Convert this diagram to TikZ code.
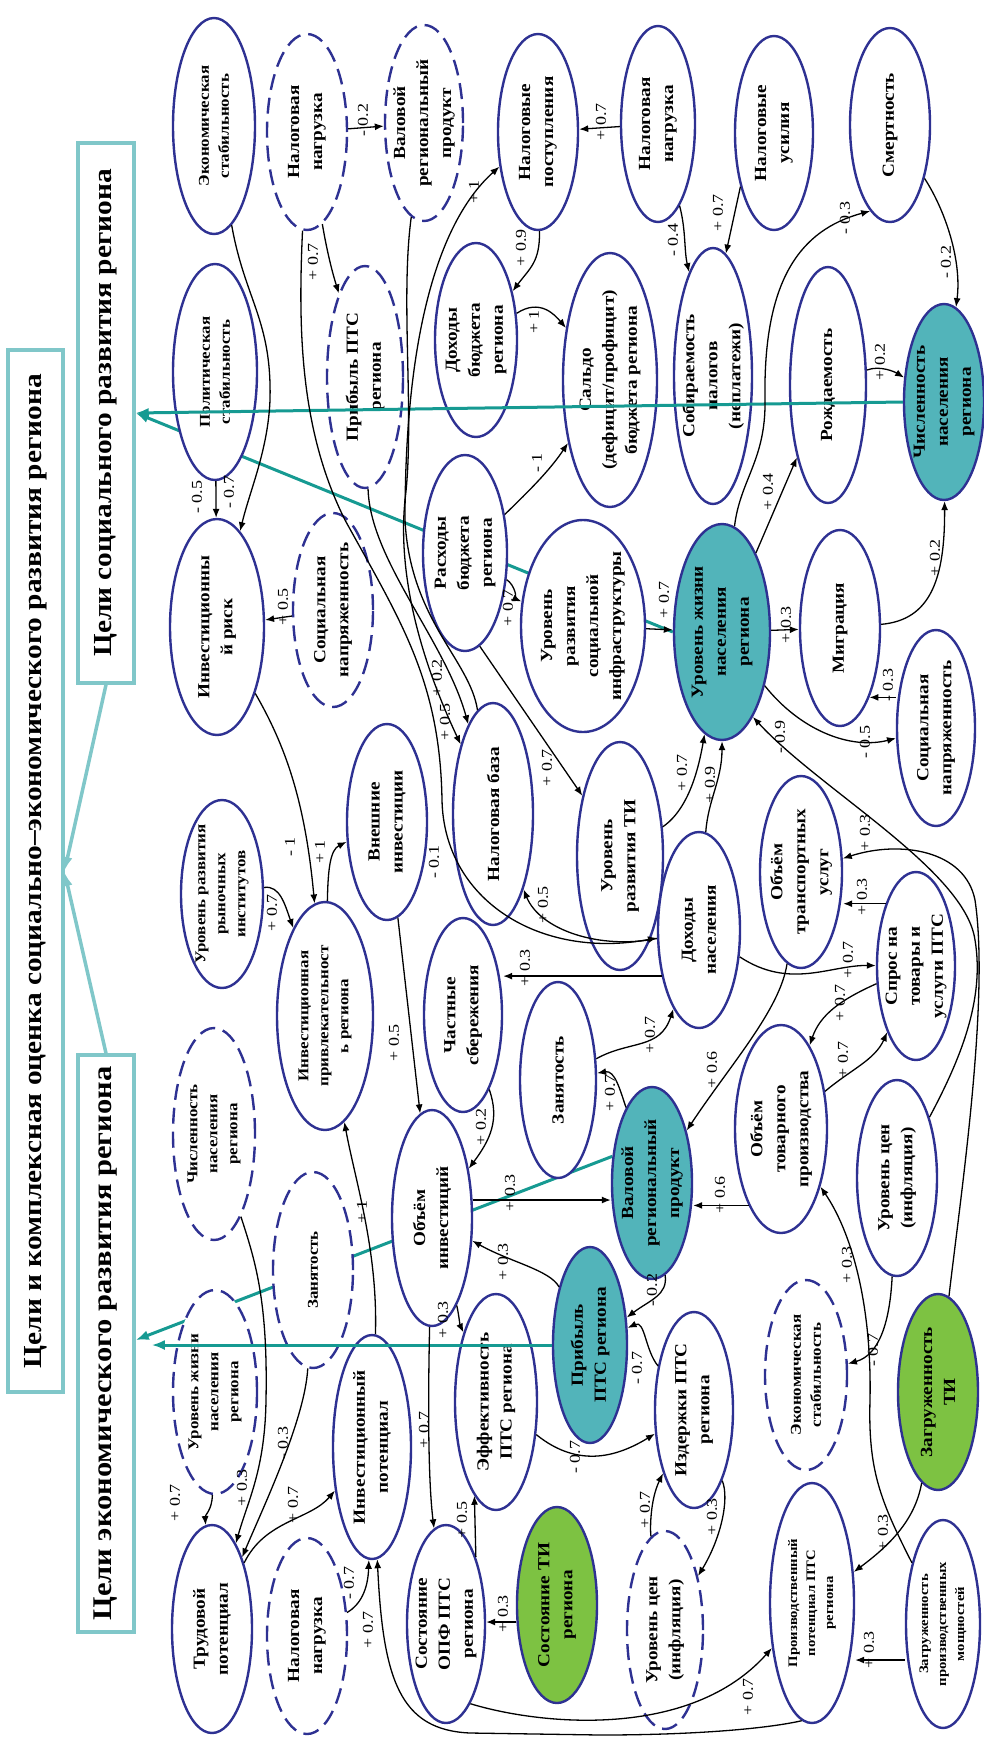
\documentclass[tikz,border=0pt]{standalone}
\usepackage{fontspec}
\setmainfont{Liberation Serif}
\newfontfamily\nodefont[FakeStretch=1.13]{Liberation Serif}
\newfontfamily\labfont[FakeStretch=1.2]{Liberation Serif}
\usetikzlibrary{shapes.geometric,arrows.meta}

\definecolor{nodeblue}{RGB}{46,49,146}
\definecolor{tealfill}{RGB}{82,180,186}
\definecolor{greenfill}{RGB}{125,194,66}
\definecolor{boxteal}{RGB}{128,199,201}
\definecolor{goalteal}{RGB}{22,154,146}

\newcommand\fntL{\nodefont\bfseries\fontsize{17}{23}\selectfont}
\newcommand\fntM{\nodefont\bfseries\fontsize{15}{20}\selectfont}
\newcommand\fntS{\nodefont\bfseries\fontsize{13}{18}\selectfont}
\newcommand\fntLab{\labfont\fontsize{15}{17}\selectfont}
\newcommand\fntTitle{\nodefont\bfseries\fontsize{26}{30}\selectfont}
\newcommand\fntGoal{\nodefont\bfseries\fontsize{27}{31}\selectfont}

\pgfdeclarelayer{bg}
\pgfsetlayers{bg,main}

\tikzset{
  ell/.style={ellipse,draw=nodeblue,line width=2.4pt,fill=white,inner sep=0pt},
  dell/.style={ell,dash pattern=on 16pt off 8pt},
  tell/.style={ell,fill=tealfill},
  gell/.style={ell,fill=greenfill},
  wh/.style 2 args={minimum width=#1pt,minimum height=#2pt},
  tL/.style={rotate=90,align=center,font=\fntL},
  tM/.style={rotate=90,align=center,font=\fntM},
  tS/.style={rotate=90,align=center,font=\fntS},
  tT/.style={rotate=90,align=center,font=\fntTitle},
  tG/.style={rotate=90,align=center,font=\fntGoal},
  lab/.style={rotate=90,font=\fntLab,inner sep=0pt},
  arr/.style={-{Latex[length=9pt,width=7pt]},line width=1.3pt},
  goalbox/.style={rectangle,draw=boxteal,line width=3.5pt,fill=white,inner sep=0pt},
  goal/.style={draw=goalteal,line width=3pt,-{Latex[length=13pt,width=10pt]}},
  sub/.style={draw=boxteal,line width=3.5pt,-{Latex[length=13pt,width=10pt]}}
}

\begin{document}
\begin{tikzpicture}[x=1pt,y=-1pt]
\useasboundingbox (0,0) rectangle (984,1738);

% goal boxes
\node[goalbox,minimum width=55pt,minimum height=1042pt,label={[tT]center:{Цели и комплексная оценка социально–экономического развития региона}}] (general) at (35.5,871) {};
\node[goalbox,minimum width=56pt,minimum height=540pt,label={[tT]center:{Цели социального развития региона}}] (socgoal) at (106,413) {};
\node[goalbox,minimum width=56pt,minimum height=577pt,label={[tG]center:{Цели экономического развития региона}}] (ecogoal) at (106,1343.5) {};
\draw[sub] (socgoal.south) -- (general.east |- 0,870);
\draw[sub] (ecogoal.north) -- (general.east |- 0,873);

% factors
\node[ell,wh={82}{216},label={[tM]center:{Экономическая\\стабильность}}] (ekst) at (214,126) {};
\node[dell,wh={80}{196},label={[tL]center:{Налоговая\\нагрузка}}] (nnA) at (307,132) {};
\node[dell,wh={78}{196},label={[tL]center:{Валовой\\региональный\\продукт}}] (vrpA) at (424,123) {};
\node[ell,wh={80}{196},label={[tL]center:{Налоговые\\поступления}}] (nalpost) at (538,132) {};
\node[ell,wh={74}{196},label={[tL]center:{Налоговая\\нагрузка}}] (nnB) at (658,124) {};
\node[ell,wh={78}{194},label={[tL]center:{Налоговые\\усилия}}] (nalus) at (774,133) {};
\node[ell,wh={80}{194},label={[tL]center:{Смертность}}] (smert) at (890,125) {};
\node[ell,wh={84}{216},label={[tM]center:{Политическая\\стабильность}}] (polst) at (215,372) {};
\node[dell,wh={76}{222},label={[tL]center:{Прибыль ПТС\\региона}}] (prA) at (365,377) {};
\node[ell,wh={82}{194},label={[tL]center:{Доходы\\бюджета\\региона}}] (dohb) at (476,340) {};
\node[ell,wh={94}{254},label={[tL]center:{Сальдо\\(дефицит/профицит)\\бюджета региона}}] (saldo) at (610,380) {};
\node[ell,wh={78}{256},label={[tL]center:{Собираемость\\налогов\\(неплатежи)}}] (sobir) at (713,376) {};
\node[ell,wh={76}{236},label={[tL]center:{Рождаемость}}] (rozhd) at (828,385) {};
\node[tell,wh={80}{196},label={[tL]center:{Численность\\населения\\региона}}] (chisl) at (944,402) {};
\node[ell,wh={94}{216},label={[tL]center:{Инвестиционны\\й риск}}] (invrisk) at (217,627) {};
\node[dell,wh={80}{194},label={[tL]center:{Социальная\\напряженность}}] (socnA) at (333,610) {};
\node[ell,wh={84}{196},label={[tL]center:{Расходы\\бюджета\\региона}}] (rash) at (465,553) {};
\node[ell,wh={124}{212},label={[tL]center:{Уровень\\развития\\социальной\\инфраструктуры}}] (urscinf) at (583,626) {};
\node[tell,wh={96}{216},label={[tL]center:{Уровень жизни\\населения\\региона}}] (urzh) at (722,632) {};
\node[ell,wh={80}{196},label={[tL]center:{Миграция}}] (migr) at (840,628) {};
\node[ell,wh={78}{196},label={[tL]center:{Социальная\\напряженность}}] (socnB) at (936,728) {};
\node[ell,wh={82}{188},label={[tM]center:{Уровень развития\\рыночных\\институтов}}] (urri) at (222,894) {};
\node[ell,wh={80}{196},label={[tL]center:{Внешние\\инвестиции}}] (vneshinv) at (387,822) {};
\node[ell,wh={80}{222},label={[tL]center:{Налоговая база}}] (nalbaza) at (493,814) {};
\node[ell,wh={86}{228},label={[tL]center:{Уровень\\развития ТИ}}] (urti) at (620,856) {};
\node[ell,wh={82}{192},label={[tL]center:{Объём\\транспортных\\услуг}}] (otrans) at (801,872) {};
\node[ell,wh={82}{196},label={[tL]center:{Доходы\\населения}}] (dohnas) at (699,930) {};
\node[ell,wh={78}{188},label={[tL]center:{Спрос на\\товары и\\услуги ПТС}}] (spros) at (916,966) {};
\node[dell,wh={82}{212},label={[tM]center:{Численность\\населения\\региона}}] (chislA) at (214,1134) {};
\node[ell,wh={96}{228},label={[tM]center:{Инвестиционная\\привлекательност\\ь региона}}] (invpriv) at (325,1016) {};
\node[ell,wh={78}{194},label={[tL]center:{Частные\\сбережения}}] (chsber) at (463,1015) {};
\node[ell,wh={76}{196},label={[tL]center:{Занятость}}] (zanB) at (558,1080) {};
\node[ell,wh={92}{208},label={[tL]center:{Объём\\товарного\\производства}}] (otov) at (781,1129) {};
\node[ell,wh={80}{216},label={[tL]center:{Объём\\инвестиций}}] (ovinv) at (432,1218) {};
\node[tell,wh={80}{192},label={[tL]center:{Валовой\\региональный\\продукт}}] (vrpB) at (652,1183) {};
\node[ell,wh={80}{196},label={[tL]center:{Уровень цен\\(инфляция)}}] (urcenB) at (897,1178) {};
\node[dell,wh={80}{196},label={[tM]center:{Занятость}}] (zanA) at (313,1270) {};
\node[dell,wh={84}{204},label={[tM]center:{Уровень жизни\\населения\\региона}}] (urzhA) at (215,1392) {};
\node[ell,wh={78}{224},label={[tL]center:{Инвестиционный\\потенциал}}] (invpot) at (372,1447) {};
\node[ell,wh={82}{216},label={[tL]center:{Эффективность\\ПТС региона}}] (effpts) at (496,1402) {};
\node[tell,wh={74}{196},label={[tL]center:{Прибыль\\ПТС региона}}] (prB) at (590,1345) {};
\node[ell,wh={78}{196},label={[tL]center:{Издержки ПТС\\региона}}] (izd) at (694,1410) {};
\node[dell,wh={82}{190},label={[tM]center:{Экономическая\\стабильность}}] (ekstB) at (806,1375) {};
\node[gell,wh={80}{196},label={[tL]center:{Загруженность\\ТИ}}] (zagti) at (938,1392) {};
\node[ell,wh={80}{208},label={[tL]center:{Трудовой\\потенциал}}] (trud) at (212,1629) {};
\node[dell,wh={80}{196},label={[tL]center:{Налоговая\\нагрузка}}] (nnC) at (307,1636) {};
\node[ell,wh={78}{198},label={[tL]center:{Состояние\\ОПФ ПТС\\региона}}] (opf) at (446,1624) {};
\node[gell,wh={80}{196},label={[tL]center:{Состояние ТИ\\региона}}] (sostti) at (557,1605) {};
\node[dell,wh={76}{198},label={[tL]center:{Уровень цен\\(инфляция)}}] (urcenA) at (665,1630) {};
\node[ell,wh={84}{240},label={[tS]center:{Производственный\\потенциал ПТС\\региона}}] (prpot) at (812,1603) {};
\node[ell,wh={74}{208},label={[tS]center:{Загруженность\\производственных\\мощностей}}] (zagpm) at (943,1624) {};

% links to the goals
\begin{pgfonlayer}{bg}
\draw[goal] (urzh.west) -- (socgoal.east |- 0,413);
\draw[goal] (vrpB.146) -- (ecogoal.east |- 0,1340);
\end{pgfonlayer}
\draw[goal] (chisl.west) -- (socgoal.east |- 0,413);
\draw[goal,shorten >=16pt] (prB.west) -- (ecogoal.east |- 0,1345);

% top part
\draw[arr] (nnA) -- (vrpA) node[lab] (l1) at (363,120) {- 0.2};
\draw[arr] (nnB) -- (nalpost) node[lab] (l2) at (601,122) {+ 0.7};
\draw[arr] (nalpost) .. controls (540,262) and (530,268) .. (dohb) node[lab] (l3) at (521,248) {+ 0.9};
\draw[arr] (dohb) .. controls (540,298) and (555,315) .. (saldo) node[lab] (l4) at (534,322) {+ 1};
\draw[arr] (nalbaza) .. controls (470,660) and (410,620) .. (405,520) .. controls (405,330) and (440,220) .. (nalpost) node[lab] (l5) at (474,192) {+ 1};
\draw[arr] (nnA) .. controls (325,240) and (330,265) .. (prA) node[lab] (l6) at (313,262) {+ 0.7};
\draw[arr] (nnA) .. controls (298,330) and (300,430) .. (345,520) .. controls (400,620) and (440,680) .. (442,800) .. controls (444,900) and (540,960) .. (dohnas) node[lab] (l7) at (434,862) {- 0.1};
\draw[arr] (prA) .. controls (370,560) and (445,640) .. (nalbaza) node[lab] (l67) at (437,678) {+ 0.2};
\draw[arr] (vrpA) .. controls (400,300) and (415,420) .. (405,500) .. controls (395,600) and (440,700) .. (nalbaza) node[lab] (l68) at (445,722) {+ 0.5};
\draw[arr] (nnB) .. controls (686,230) and (684,250) .. (sobir) node[lab] (l50) at (673,240) {- 0.4};
\draw[arr] (nalus.238) -- (sobir.84) node[lab] (l51) at (718,213) {+ 0.7};
\draw[arr] (smert) .. controls (945,210) and (962,260) .. (chisl) node[lab] (l52) at (946,262) {- 0.2};
\draw[arr] (rozhd) .. controls (880,365) and (895,372) .. (chisl) node[lab] (l53) at (880,362) {+ 0.2};

% investment block
\draw[arr] (polst) -- (invrisk) node[lab] (l8) at (197,497) {- 0.5};
\draw[arr] (ekst) .. controls (245,300) and (272,320) .. (270,400) .. controls (268,450) and (250,490) .. (invrisk) node[lab] (l9) at (229,492) {- 0.7};
\draw[arr] (socnA) -- (invrisk) node[lab] (l10) at (283,607) {+ 0.5};
\draw[arr] (invrisk) .. controls (285,745) and (305,800) .. (invpriv) node[lab] (l11) at (290,847) {- 1};
\draw[arr] (urri) .. controls (280,885) and (285,905) .. (invpriv) node[lab] (l12) at (272,913) {+ 0.7};
\draw[arr] (invpriv) .. controls (328,870) and (330,850) .. (vneshinv) node[lab] (l13) at (320,852) {+ 1};
\draw[arr] (vneshinv) -- (ovinv) node[lab] (l14) at (394,1043) {+ 0.5};
\draw[arr] (dohnas.231) -- (dohnas.231 -| chsber.east) node[lab] (l15) at (525,968) {+ 0.3};
\draw[arr] (chsber) .. controls (500,1120) and (490,1140) .. (ovinv) node[lab] (l16) at (481,1127) {+ 0.2};
\draw[arr] (zanB) .. controls (630,1040) and (660,1050) .. (dohnas) node[lab] (l17) at (650,1035) {+ 0.7};
\draw[arr] (vrpB) .. controls (620,1090) and (615,1070) .. (zanB) node[lab] (l18) at (610,1093) {+ 0.7};
\draw[arr] (ovinv.east |- 0,1200) -- (vrpB.west |- 0,1200) node[lab] (l19) at (510,1193) {+ 0.3};
\draw[arr] (prB) .. controls (550,1270) and (510,1262) .. (ovinv) node[lab] (l20) at (503,1262) {+ 0.3};
\draw[arr] (invpot) .. controls (378,1250) and (355,1180) .. (invpriv) node[lab] (l21) at (362,1212) {+ 1};
\draw[arr] (ovinv) .. controls (428,1400) and (428,1480) .. (opf) node[lab] (l22) at (424,1430) {+ 0.7};
\draw[arr] (ovinv) .. controls (458,1310) and (460,1325) .. (effpts) node[lab] (l23) at (443,1320) {+ 0.3};
\draw[arr] (opf.66) -- (effpts.257) node[lab] (l24) at (462,1520) {+ 0.5};
\draw[arr] (sostti.west |- 0,1622) -- (opf.east |- 0,1622) node[lab] (l25) at (503,1614) {+ 0.3};
\draw[arr] (effpts) .. controls (580,1470) and (620,1455) .. (izd) node[lab] (l26) at (575,1457) {- 0.7};
\draw[arr] (izd) .. controls (645,1350) and (645,1320) .. (prB) node[lab] (l27) at (637,1368) {- 0.7};
\draw[arr] (vrpB) .. controls (668,1295) and (650,1300) .. (prB) node[lab] (l28) at (652,1290) {- 0.2};
\draw[arr] (urcenA) .. controls (650,1530) and (650,1500) .. (izd) node[lab] (l29) at (645,1510) {+ 0.7};
\draw[arr] (izd) .. controls (730,1500) and (720,1540) .. (urcenA) node[lab] (l30) at (712,1517) {+ 0.3};

% labour and potentials
\draw[arr] (urzhA) .. controls (212,1510) and (205,1515) .. (trud) node[lab] (l31) at (175,1503) {+ 0.7};
\draw[arr] (chislA) .. controls (255,1260) and (268,1300) .. (266,1400) .. controls (265,1470) and (248,1500) .. (trud) node[lab] (l32) at (242,1488) {+ 0.3};
\draw[arr] (zanA) .. controls (305,1420) and (262,1510) .. (trud) node[lab] (l33) at (283,1443) {- 0.3};
\draw[arr] (trud) .. controls (265,1520) and (310,1520) .. (invpot) node[lab] (l34) at (293,1505) {+ 0.7};
\draw[arr] (nnC) .. controls (360,1605) and (368,1590) .. (invpot) node[lab] (l35) at (349,1583) {- 0.7};
\draw[arr] (prpot.-95) .. controls (770,1728) and (700,1735) .. (600,1735) -- (470,1733) .. controls (400,1730) and (383,1680) .. (invpot) node[lab] (l36) at (368,1630) {+ 0.7};
\draw[arr] (opf.-73) .. controls (540,1725) and (690,1740) .. (prpot) node[lab] (l37) at (748,1697) {+ 0.7};
\draw[arr] (zagpm.west |- 0,1660) -- (prpot.east |- 0,1660) node[lab] (l38) at (869,1650) {+ 0.3};
\draw[arr] (zagti) .. controls (915,1520) and (890,1545) .. (prpot) node[lab] (l39) at (883,1533) {+ 0.3};
\draw[arr] (urcenB) .. controls (890,1320) and (880,1355) .. (ekstB) node[lab] (l40) at (873,1350) {- 0.7};
\draw[arr] (zagpm) .. controls (880,1500) and (868,1470) .. (870,1400) .. controls (872,1300) and (850,1230) .. (otov) node[lab] (l41) at (847,1265) {+ 0.3};

% market block
\draw[arr] (urcenB) .. controls (960,1060) and (985,1000) .. (975,940) .. controls (965,870) and (820,790) .. (urzh.-70) node[lab] (l42) at (780,737) {- 0.9};
\draw[arr] (zagti) .. controls (960,1200) and (990,1000) .. (975,900) .. controls (965,850) and (900,840) .. (otrans) node[lab] (l43) at (865,833) {+ 0.3};
\draw[arr] (spros.116) -- (spros.116 -| otrans.east) node[lab] (l44) at (862,897) {+ 0.3};
\draw[arr] (dohnas) .. controls (790,990) and (830,965) .. (spros) node[lab] (l45) at (848,960) {+ 0.7};
\draw[arr] (spros) .. controls (840,1000) and (820,1015) .. (otov) node[lab] (l46) at (840,1003) {+ 0.7};
\draw[arr] (otov) .. controls (850,1070) and (875,1060) .. (spros) node[lab] (l47) at (843,1060) {+ 0.7};
\draw[arr] (otrans) .. controls (780,1010) and (730,1065) .. (vrpB) node[lab] (l48) at (712,1070) {+ 0.6};
\draw[arr] (otov.247) -- (otov.247 -| vrpB.east) node[lab] (l49) at (720,1195) {+ 0.6};
\draw[arr] (dohnas) .. controls (600,950) and (540,930) .. (nalbaza) node[lab] (l66) at (543,905) {+ 0.5};

% budget and population
\draw[arr] (urzh) .. controls (740,480) and (766,460) .. (765,400) .. controls (763,280) and (800,230) .. (smert.-103) node[lab] (l54) at (845,218) {- 0.3};
\draw[arr] (urzh) -- (rozhd) node[lab] (l55) at (768,492) {+ 0.4};
\draw[arr] (urzh) -- (migr) node[lab] (l56) at (786,625) {+ 0.3};
\draw[arr] (migr) .. controls (930,620) and (945,580) .. (chisl) node[lab] (l57) at (935,558) {+ 0.2};
\draw[arr] (socnB.west |- migr.-67) -- (migr.-67) node[lab] (l58) at (888,685) {- 0.3};
\draw[arr] (urzh) .. controls (800,730) and (850,750) .. (socnB) node[lab] (l59) at (865,742) {- 0.5};
\draw[arr] (urscinf) -- (urzh) node[lab] (l60) at (664,600) {+ 0.7};
\draw[arr] (urti) .. controls (680,815) and (695,790) .. (urzh) node[lab] (l61) at (682,773) {+ 0.7};
\draw[arr] (dohnas) .. controls (708,800) and (722,780) .. (urzh) node[lab] (l62) at (710,785) {+ 0.9};
\draw[arr] (rash) .. controls (530,490) and (550,470) .. (saldo) node[lab] (l63) at (537,463) {- 1};
\draw[arr] (rash) .. controls (515,585) and (518,600) .. (urscinf) node[lab] (l64) at (508,608) {+ 0.7};
\draw[arr] (rash.-81) -- (urti.122) node[lab] (l65) at (547,768) {+ 0.7};
\end{tikzpicture}
\end{document}
